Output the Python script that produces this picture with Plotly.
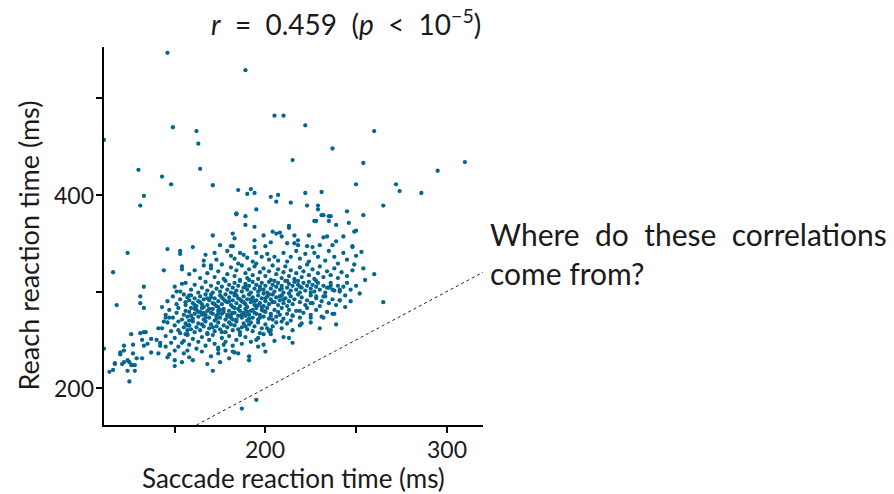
import plotly.graph_objects as go

# Trial-by-trial reaction times: (saccade ms, reach ms)
slow_outliers = [
    (146, 547), (189, 529), (111, 457), (130, 426), (133, 399), (143, 419), (148, 411),
    (149, 470), (162, 466), (163, 453), (164, 427), (171, 410), (185, 405), (190, 401),
    (192, 406), (194, 402), (203, 398), (207, 400), (205, 482), (210, 482), (215, 436),
    (222, 402), (222, 472), (231, 403), (237, 448), (250, 411), (254, 433), (260, 466),
    (272, 411), (274, 404), (286, 402), (295, 425), (310, 434), (131, 389),
]

upper_cloud = [
    (206, 393), (214, 392), (223, 389), (229, 389), (229, 385), (195, 385), (184, 381),
    (184, 380), (189, 378), (231, 379), (232, 379), (235, 378), (236, 378), (245, 383),
    (254, 379), (265, 389), (189, 369), (194, 367), (227, 373), (228, 373), (235, 373),
    (239, 369), (246, 371), (250, 363), (213, 368), (213, 366), (160, 346), (146, 344),
    (153, 342), (153, 339), (124, 340), (116, 320), (144, 322), (154, 323), (253, 341),
    (254, 324), (260, 318), (265, 289), (248, 347),
    (171, 358), (182, 360), (183, 355), (199, 358), (204, 362), (206, 360), (208, 361),
    (209, 357), (216, 358), (218, 353), (224, 358), (232, 356), (234, 357), (243, 357),
    (249, 362), (175, 348), (181, 347), (182, 347), (194, 353), (203, 351), (194, 346),
    (200, 347), (212, 350), (216, 350), (218, 348), (223, 347), (226, 346), (230, 348),
    (237, 348), (239, 352), (248, 346),
    (167, 338), (166, 332), (172, 340), (173, 333), (170, 327), (179, 342), (181, 337),
    (183, 334), (186, 340), (188, 338), (190, 335), (193, 331), (195, 340), (198, 336),
    (201, 339), (202, 333), (205, 336), (207, 332), (210, 340), (212, 331), (214, 336),
    (217, 342), (219, 334), (222, 339), (224, 331), (227, 340), (229, 336), (233, 332),
    (235, 342), (238, 336), (240, 329), (243, 340), (245, 333), (250, 337),
]

band_312_329 = [
    (154, 326), (158, 318), (161, 322), (164, 314), (166, 327), (168, 319), (170, 324),
    (172, 315), (174, 321), (176, 328), (177, 313), (179, 318), (181, 325), (183, 316),
    (184, 322), (186, 312), (187, 327), (189, 319), (190, 314), (191, 323), (193, 317),
    (194, 326), (196, 313), (197, 320), (199, 324), (200, 316), (202, 321), (203, 312),
    (204, 327), (206, 318), (207, 323), (209, 314), (210, 320), (211, 326), (213, 316),
    (214, 322), (216, 313), (217, 319), (219, 325), (220, 315), (221, 321), (223, 328),
    (224, 317), (226, 323), (227, 313), (229, 319), (230, 326), (232, 315), (234, 321),
    (236, 317), (238, 324), (240, 314), (242, 320), (245, 316), (248, 322), (185, 329),
    (195, 329), (212, 311), (218, 311), (228, 311),
]

band_298_312 = [
    (150, 305), (153, 300), (156, 309), (159, 302), (161, 307), (163, 299), (165, 304),
    (167, 310), (168, 301), (170, 306), (171, 299), (173, 303), (174, 309), (175, 300),
    (176, 305), (178, 311), (179, 302), (180, 307), (181, 299), (182, 304), (183, 309),
    (184, 301), (185, 306), (186, 311), (187, 300), (188, 304), (189, 308), (190, 302),
    (191, 306), (192, 299), (193, 310), (194, 303), (195, 307), (196, 300), (197, 305),
    (198, 309), (199, 302), (200, 306), (201, 299), (202, 310), (203, 303), (204, 307),
    (205, 300), (206, 305), (207, 309), (208, 302), (209, 306), (210, 299), (211, 311),
    (212, 304), (213, 308), (214, 301), (215, 306), (216, 310), (217, 302), (218, 307),
    (219, 299), (220, 304), (221, 309), (222, 301), (223, 306), (224, 310), (225, 303),
    (226, 307), (227, 300), (228, 305), (229, 309), (230, 302), (232, 306), (233, 299),
    (235, 304), (236, 309), (238, 301), (240, 306), (241, 300), (243, 305), (245, 309),
    (247, 302), (250, 306), (183, 298), (191, 312), (199, 298), (205, 311), (213, 298),
    (189, 305), (197, 302), (209, 303), (219, 305), (225, 299),
]

band_284_298 = [
    (146, 290), (149, 295), (151, 287), (153, 292), (155, 297), (156, 286), (158, 291),
    (159, 296), (160, 288), (161, 293), (162, 285), (163, 290), (164, 295), (165, 287),
    (166, 292), (167, 297), (168, 286), (169, 291), (170, 294), (171, 288), (172, 293),
    (173, 285), (174, 290), (175, 296), (176, 287), (177, 292), (178, 297), (179, 289),
    (180, 294), (181, 286), (182, 291), (183, 296), (184, 288), (185, 293), (186, 285),
    (187, 290), (188, 295), (189, 287), (190, 292), (191, 297), (192, 289), (193, 294),
    (194, 286), (195, 291), (196, 296), (197, 288), (198, 293), (199, 285), (200, 290),
    (201, 295), (202, 287), (203, 292), (204, 297), (205, 289), (206, 294), (207, 286),
    (208, 291), (209, 296), (210, 288), (211, 293), (212, 285), (213, 290), (214, 295),
    (215, 287), (216, 292), (218, 297), (219, 289), (220, 294), (222, 286), (223, 291),
    (225, 296), (226, 288), (228, 293), (230, 285), (231, 290), (233, 295), (235, 288),
    (237, 292), (239, 286), (241, 291), (244, 296), (164, 289), (168, 293), (172, 287),
    (176, 294), (180, 290), (184, 296), (188, 289), (192, 292), (196, 286), (200, 293),
    (204, 289), (208, 295), (166, 284), (174, 284), (182, 284), (190, 284), (198, 284),
    (170, 297), (178, 290), (186, 292), (194, 290), (202, 297), (210, 292), (157, 294),
    (161, 286),
]

band_270_284 = [
    (145, 276), (147, 281), (149, 273), (151, 278), (152, 283), (154, 271), (155, 276),
    (156, 280), (157, 274), (158, 279), (159, 283), (160, 272), (161, 277), (162, 281),
    (163, 274), (164, 279), (165, 283), (166, 271), (167, 276), (168, 280), (169, 273),
    (170, 278), (171, 282), (172, 270), (173, 275), (174, 280), (175, 273), (176, 277),
    (177, 282), (178, 271), (179, 276), (180, 280), (181, 273), (182, 278), (183, 283),
    (184, 271), (185, 275), (186, 280), (187, 273), (188, 278), (189, 282), (190, 270),
    (191, 276), (192, 280), (193, 273), (194, 278), (195, 283), (196, 271), (197, 276),
    (198, 281), (199, 274), (200, 279), (201, 283), (202, 272), (203, 277), (205, 281),
    (206, 274), (207, 279), (209, 283), (210, 272), (212, 277), (213, 281), (215, 275),
    (217, 280), (219, 273), (221, 278), (223, 283), (225, 276), (228, 281), (231, 274),
    (234, 279), (238, 277), (159, 275), (163, 279), (167, 273), (171, 277), (175, 281),
    (179, 274), (183, 278), (187, 276), (191, 272), (195, 277), (199, 280), (203, 275),
    (161, 282), (165, 276), (169, 282), (173, 272), (177, 279), (181, 276), (185, 282),
    (189, 275), (193, 281), (197, 273), (208, 276), (158, 270), (166, 278), (174, 277),
    (182, 271), (190, 279), (204, 271), (214, 270),
]

band_256_270 = [
    (143, 262), (146, 268), (148, 259), (150, 265), (152, 269), (153, 257), (155, 263),
    (156, 267), (157, 260), (158, 265), (160, 269), (161, 258), (162, 263), (163, 267),
    (164, 260), (166, 264), (167, 269), (168, 257), (169, 262), (170, 266), (172, 259),
    (173, 264), (174, 268), (175, 261), (177, 265), (178, 258), (179, 263), (180, 268),
    (182, 260), (183, 265), (184, 269), (186, 258), (187, 263), (188, 267), (190, 261),
    (191, 266), (193, 259), (194, 264), (196, 268), (198, 262), (200, 266), (202, 259),
    (204, 264), (206, 268), (209, 262), (212, 267), (215, 260), (219, 265), (225, 268),
    (230, 262), (159, 261), (165, 266), (171, 263), (176, 258), (181, 266), (185, 261),
    (189, 264), (192, 268), (197, 257), (201, 262),
]

lower_tail = [
    (140, 250), (142, 244), (145, 254), (148, 247), (150, 252), (152, 243), (155, 249),
    (157, 255), (158, 245), (160, 251), (162, 241), (163, 248), (165, 253), (167, 244),
    (169, 250), (171, 255), (172, 246), (174, 242), (176, 252), (178, 248), (180, 254),
    (182, 244), (184, 250), (187, 246), (189, 253), (192, 248), (196, 252), (199, 245),
    (205, 249), (210, 253), (168, 256), (177, 245), (186, 255), (215, 247),
    (146, 232), (155, 236), (160, 229), (165, 238), (170, 233), (175, 227), (180, 231),
    (185, 236), (191, 229), (200, 238), (168, 225), (178, 239),
    (171, 218), (174, 240), (174, 236), (182, 238), (183, 237), (191, 233), (196, 243),
    (195, 250), (199, 256), (203, 256), (203, 260), (213, 252), (195, 188), (187, 179),
]

fast_fringe = [
    (118, 286), (133, 305), (131, 295), (131, 288), (133, 283), (143, 284), (151, 300),
    (154, 308), (111, 241), (114, 217), (116, 219), (117, 225), (117, 226), (120, 237),
    (120, 235), (122, 244), (122, 239), (121, 225), (122, 227), (124, 229), (125, 227),
    (126, 224), (127, 224), (128, 224), (124, 218), (128, 218), (125, 207), (127, 245),
    (127, 236), (129, 231), (132, 231), (126, 256), (131, 257), (133, 258), (134, 258),
    (132, 250), (133, 244), (137, 251), (135, 246), (141, 262), (142, 247), (137, 237),
    (141, 236), (145, 243), (144, 269), (145, 273), (147, 273), (147, 235), (150, 239),
    (150, 229), (150, 223), (152, 260), (154, 247), (154, 227), (157, 239), (158, 232),
    (156, 256), (157, 256), (157, 265), (158, 265), (156, 289), (158, 296),
]

right_fringe = [
    (220, 267), (225, 273), (232, 273), (237, 277), (239, 266), (215, 275), (219, 280),
    (241, 291), (241, 302), (237, 302), (236, 306), (234, 304), (232, 295), (228, 295),
    (225, 288), (209, 269), (247, 290), (244, 284), (252, 298), (255, 312), (249, 328),
]

groups = [slow_outliers, upper_cloud, band_312_329, band_298_312, band_284_298,
          band_270_284, band_256_270, lower_tail, fast_fringe, right_fringe]
saccade_ms = [s for g in groups for s, _ in g]
reach_ms = [r for g in groups for _, r in g]

x_range = [111, 320]
y_range = [162, 553]
identity = [162, 320]

# Ticks every 50 / 100 ms, with only some of them labelled
x_ticks = [150, 200, 250, 300]
x_tick_labels = [200, 300]
y_ticks = [200, 300, 400, 500]
y_tick_labels = [200, 400]

dot_color = "#04668f"
ink = "#1a1a1a"
font_family = "Lato, 'Open Sans', sans-serif"

fig = go.Figure()

# y = x reference line
fig.add_trace(go.Scatter(
    x=identity, y=identity, mode="lines",
    line=dict(color="#222222", width=1, dash="dot"),
    hoverinfo="skip", showlegend=False,
))

fig.add_trace(go.Scatter(
    x=saccade_ms, y=reach_ms, mode="markers",
    marker=dict(color=dot_color, size=4.3, line=dict(width=0)),
    showlegend=False, cliponaxis=False,
))

axis_common = dict(
    showgrid=False, zeroline=False, showline=True, linecolor="black", linewidth=1.5,
    ticks="outside", ticklen=6, tickwidth=1.5, tickcolor="black",
    showticklabels=False, mirror=False, automargin=False,
)

fig.update_xaxes(range=x_range, tickvals=x_ticks, **axis_common)
fig.update_yaxes(range=y_range, tickvals=y_ticks, **axis_common)

tick_font = dict(family=font_family, size=23, color=ink)
for v in x_tick_labels:
    fig.add_annotation(
        text=str(v), x=v, xref="x", y=0, yref="paper",
        xanchor="center", yanchor="top", yshift=-8, showarrow=False,
        font=tick_font,
    )
for v in y_tick_labels:
    fig.add_annotation(
        text=str(v), x=0, xref="paper", y=v, yref="y",
        xanchor="right", yanchor="middle", xshift=-8, showarrow=False,
        font=tick_font,
    )

# Axis titles
fig.add_annotation(
    text="Saccade reaction time (ms)",
    xref="paper", yref="paper", x=0.5, y=0, xanchor="center", yanchor="middle",
    yshift=-53, showarrow=False,
    font=dict(family=font_family, size=26, color=ink),
)
fig.add_annotation(
    text="Reach reaction time (ms)",
    xref="paper", yref="paper", x=0, y=0.475, xanchor="center", yanchor="middle",
    xshift=-76, textangle=-90, showarrow=False,
    font=dict(family=font_family, size=27, color=ink),
)

fig.add_annotation(
    text="<i>r</i>  =  0.459  (<i>p</i>  <  10<sup>−5</sup>)",
    xref="paper", yref="paper", x=1.0, y=1.0, xanchor="right", yanchor="bottom",
    yshift=4, showarrow=False,
    font=dict(family=font_family, size=28, color=ink),
)

fig.add_annotation(
    text="Where  do  these  correlations<br>come from?",
    xref="paper", yref="paper", x=1.0, y=0.455, xanchor="left", yanchor="middle",
    xshift=5, align="left", showarrow=False,
    font=dict(family=font_family, size=30, color=ink),
)

fig.update_layout(
    width=894, height=494,
    margin=dict(l=104, r=411, t=47, b=69),
    paper_bgcolor="white", plot_bgcolor="white",
    font=dict(family=font_family, color=ink),
)

fig.write_html("out.html")
